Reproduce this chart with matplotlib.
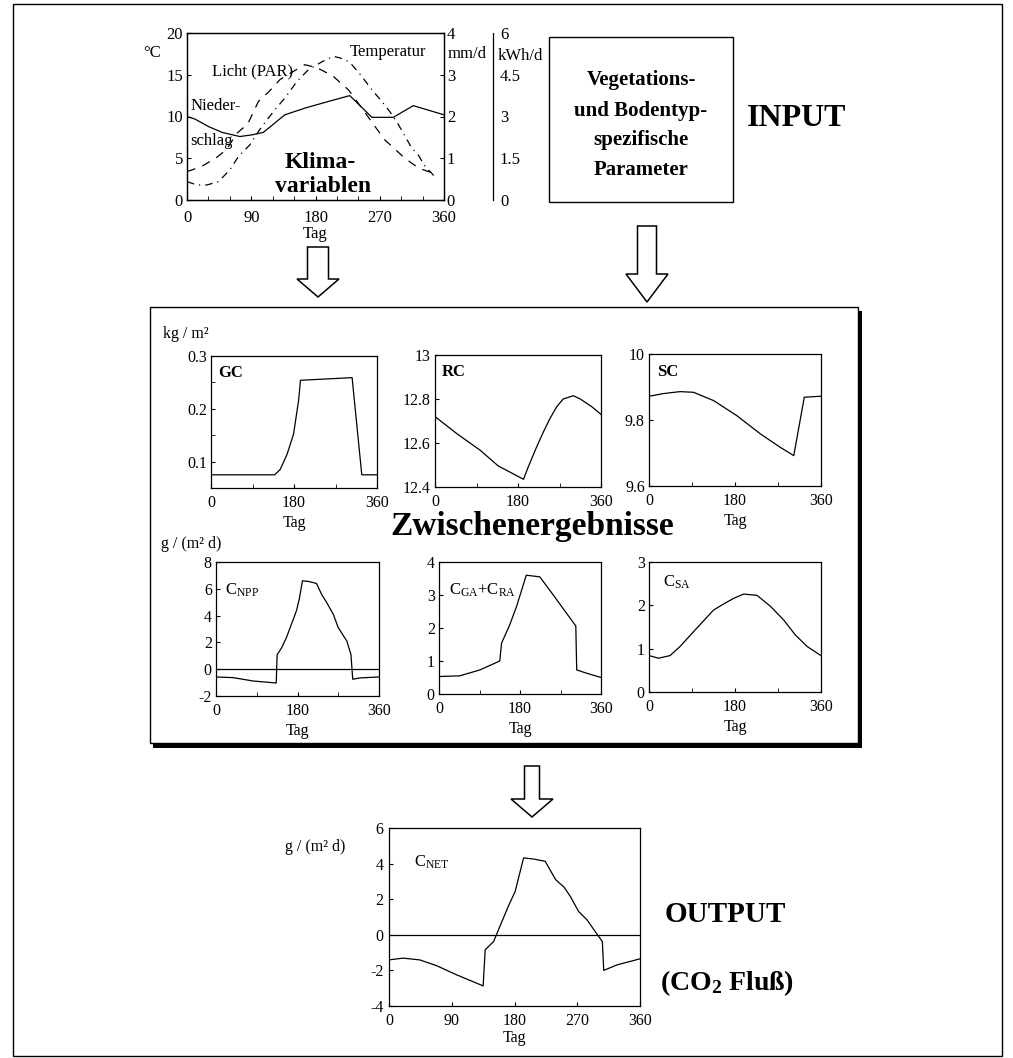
import matplotlib
matplotlib.use("Agg")
import matplotlib.pyplot as plt
from matplotlib.patches import Rectangle, Polygon
from matplotlib.ticker import MultipleLocator, FixedLocator

plt.rcParams['font.family'] = ['Liberation Serif', 'DejaVu Serif']
plt.rcParams['mathtext.fontset'] = 'custom'
plt.rcParams['mathtext.rm'] = 'Liberation Serif'
plt.rcParams['mathtext.it'] = 'Liberation Serif:italic'
plt.rcParams['mathtext.bf'] = 'Liberation Serif:bold'
plt.rcParams['axes.unicode_minus'] = False
plt.rcParams['axes.linewidth'] = 0.9

# ---------------- data ----------------
# climate variables (top chart)
temp_days = [0, 14, 28, 44, 60, 72, 88, 100, 112, 125, 137, 154, 170, 190, 205, 215, 228, 243, 259, 273, 284, 295, 315, 324, 332, 347]
temp_vals = [2.2, 1.8, 1.8, 2.2, 3.6, 5.2, 6.6, 8.2, 9.6, 11.0, 12.2, 14.2, 15.6, 16.6, 17.2, 17.0, 16.5, 15.0, 13.2, 11.8, 10.6, 9.2, 6.2, 5.4, 4.2, 2.8]  # °C

light_days = [0, 20, 40, 55, 70, 85, 100, 115, 130, 145, 165, 180, 190, 205, 226, 245, 260, 277, 290, 305, 325, 345]
light_vals = [1.02, 1.2, 1.5, 1.8, 2.4, 2.73, 3.54, 3.9, 4.32, 4.56, 4.86, 4.77, 4.65, 4.44, 3.96, 3.3, 2.76, 2.16, 1.86, 1.5, 1.14, 0.96]  # kWh/d

precip_days = [0, 11, 30, 49, 74, 91, 107, 137, 165, 198, 228, 259, 289, 317, 360]
precip_vals = [2.0, 1.94, 1.76, 1.62, 1.52, 1.56, 1.62, 2.04, 2.2, 2.36, 2.5, 1.98, 1.98, 2.26, 2.04]  # mm/d

# intermediate results
gc_days = [0, 138, 150, 165, 179, 190, 194, 306, 327, 360]
gc_vals = [0.075, 0.075, 0.085, 0.114, 0.152, 0.216, 0.254, 0.259, 0.075, 0.075]

rc_days = [0, 47, 98, 137, 192, 202, 220, 235, 249, 264, 278, 300, 315, 340, 360]
rc_vals = [12.72, 12.643, 12.567, 12.496, 12.435, 12.49, 12.58, 12.65, 12.71, 12.765, 12.80, 12.815, 12.80, 12.765, 12.73]

sc_days = [0, 30, 65, 93, 135, 184, 233, 275, 303, 325, 360]
sc_vals = [9.872, 9.88, 9.886, 9.884, 9.859, 9.813, 9.758, 9.717, 9.692, 9.869, 9.872]

npp_days = [0, 38, 82, 133, 135, 145, 156, 171, 178, 184, 191, 204, 222, 233, 244, 259, 270, 289, 298, 302, 318, 360]
npp_vals = [-0.58, -0.63, -0.88, -1.03, 1.08, 1.6, 2.4, 3.75, 4.4, 5.25, 6.6, 6.55, 6.4, 5.6, 5.0, 4.1, 3.1, 2.1, 1.1, -0.75, -0.65, -0.58]

ga_days = [0, 46, 91, 135, 139, 157, 172, 194, 224, 254, 304, 306, 328, 360]
ga_vals = [0.53, 0.55, 0.73, 1.0, 1.54, 2.09, 2.64, 3.6, 3.55, 3.0, 2.06, 0.73, 0.63, 0.5]

sa_days = [0, 20, 44, 65, 93, 114, 135, 156, 177, 198, 226, 254, 282, 306, 331, 360]
sa_vals = [0.84, 0.78, 0.84, 1.05, 1.39, 1.64, 1.89, 2.03, 2.16, 2.26, 2.23, 1.98, 1.66, 1.32, 1.05, 0.84]

# output
net_days = [0, 20, 44, 68, 97, 135, 138, 150, 159, 171, 181, 193, 207, 224, 239, 251, 260, 272, 284, 299, 306, 308, 327, 360]
net_vals = [-1.41, -1.31, -1.41, -1.73, -2.25, -2.87, -0.84, -0.38, 0.47, 1.59, 2.44, 4.32, 4.26, 4.13, 3.10, 2.68, 2.16, 1.31, 0.84, 0.0, -0.38, -2.0, -1.69, -1.35]

# ---------------- figure ----------------
W, H = 1013, 1058
fig = plt.figure(figsize=(W / 100, H / 100), dpi=100)


def add_ax(x0, y0, x1, y1):
    return fig.add_axes([x0 / W, 1 - y1 / H, (x1 - x0) / W, (y1 - y0) / H])


bg = add_ax(0, 0, W, H)
bg.set_xlim(0, W); bg.set_ylim(H, 0); bg.axis('off'); bg.set_zorder(-5)
fg = add_ax(0, 0, W, H)
fg.set_xlim(0, W); fg.set_ylim(H, 0); fg.axis('off'); fg.set_zorder(10)
fg.patch.set_visible(False)

# frames
bg.add_patch(Rectangle((13, 4), 989, 1052, fill=False, ec='black', lw=1.0))
bg.add_patch(Rectangle((153, 311), 709, 437, fc='black', ec='black', lw=0))
bg.add_patch(Rectangle((150, 307), 708, 436, fc='white', ec='black', lw=1.0))
bg.add_patch(Rectangle((549, 37), 184, 165, fill=False, ec='black', lw=1.0))


def block_arrow(cx, top, head_y, tip, shaft_w, head_w):
    pts = [(cx - shaft_w / 2, top), (cx + shaft_w / 2, top), (cx + shaft_w / 2, head_y),
           (cx + head_w / 2, head_y), (cx, tip), (cx - head_w / 2, head_y),
           (cx - shaft_w / 2, head_y)]
    fg.add_patch(Polygon(pts, closed=True, fill=False, ec='black', lw=1.1))


block_arrow(318, 247, 279, 297, 21, 42)
block_arrow(647, 226, 274, 302, 19, 42)
block_arrow(532, 766, 799, 817, 15, 42)


def style(ax, labelsize=11, xpad=5, ypad=3):
    ax.patch.set_visible(False)
    ax.tick_params(which='both', direction='in', labelsize=labelsize)
    ax.tick_params(which='major', length=3)
    ax.tick_params(which='minor', length=3)
    ax.tick_params(axis='x', pad=xpad)
    ax.tick_params(axis='y', pad=ypad)
    for s in ax.spines.values():
        s.set_linewidth(0.9)


LW = 0.9

# ---- top climate chart ----
ax = add_ax(187, 33, 444, 200)
style(ax, labelsize=12, xpad=7, ypad=3)
ax.plot(temp_days, temp_vals, color='black', lw=LW, dashes=(6, 4, 1, 4))
ax.set_xlim(0, 360); ax.set_ylim(0, 20)
ax.set_xticks([0, 90, 180, 270, 360])
ax.xaxis.set_minor_locator(MultipleLocator(30))
ax.set_yticks([0, 5, 10, 15, 20])
ax.set_xlabel('Tag', fontsize=12, labelpad=0)

ax2 = ax.twinx()
style(ax2, labelsize=12, ypad=2)
ax2.plot(precip_days, precip_vals, color='black', lw=LW)
ax2.set_ylim(0, 4)
ax2.set_yticks([0, 1, 2, 3, 4])

ax3 = ax.twinx()
style(ax3, labelsize=12, ypad=5)
ax3.plot(light_days, light_vals, color='black', lw=LW, dashes=(7, 6))
ax3.set_ylim(0, 6)
ax3.spines['right'].set_position(('axes', (493 - 187) / 257))
for s in ['top', 'left', 'bottom']:
    ax3.spines[s].set_visible(False)
ax3.set_yticks([0, 1.5, 3, 4.5, 6])
ax3.set_yticklabels(['0', '1.5', '3', '4.5', '6'])
ax3.tick_params(axis='y', length=0)

fg.text(152, 53, '°C', fontsize=12, ha='center', va='center')
fg.text(448, 54, 'mm/d', fontsize=12, ha='left', va='center')
fg.text(498, 56, 'kWh/d', fontsize=12, ha='left', va='center')
fg.text(212, 71, 'Licht (PAR)', fontsize=12, ha='left', va='center')
fg.text(350, 52, 'Temperatur', fontsize=12, ha='left', va='center')
fg.text(191, 106, 'Nieder-', fontsize=12, ha='left', va='center')
fg.text(190, 141, 'schlag', fontsize=12, ha='left', va='center')
fg.text(320, 163, 'Klima-', fontsize=17, fontweight='bold', ha='center', va='center')
fg.text(323, 186, 'variablen', fontsize=17, fontweight='bold', ha='center', va='center')

for yy, t in zip([80, 111, 140, 170], ['Vegetations-', 'und Bodentyp-', 'spezifische', 'Parameter']):
    fg.text(641, yy, t, fontsize=15, fontweight='bold', ha='center', va='center')
fg.text(797, 118, 'INPUT', fontsize=23, fontweight='bold', ha='center', va='center')

# ---- intermediate results ----
def mid_panel(box, days, vals, ylim, yticks, ylabels, minor_y, label, label_xy,
              bold=False, zero=False, xlabel=True):
    a = add_ax(*box)
    style(a, labelsize=11.5)
    a.plot(days, vals, color='black', lw=LW)
    if zero:
        a.axhline(0, color='black', lw=LW)
    a.set_xlim(0, 360); a.set_ylim(*ylim)
    a.set_xticks([0, 180, 360])
    a.xaxis.set_minor_locator(FixedLocator([90, 270]))
    a.set_yticks(yticks)
    a.set_yticklabels(ylabels)
    if minor_y:
        a.yaxis.set_minor_locator(FixedLocator(minor_y))
    if xlabel:
        a.set_xlabel('Tag', fontsize=11.5, labelpad=3)
    fg.text(label_xy[0], label_xy[1], label, fontsize=12,
            fontweight='bold' if bold else 'normal', ha='left', va='center')
    return a


mid_panel((211, 356, 377, 488), gc_days, gc_vals, (0.05, 0.3), [0.1, 0.2, 0.3], ['0.1', '0.2', '0.3'],
          [0.15, 0.25], 'GC', (218, 373), bold=True)
mid_panel((435, 355, 601, 487), rc_days, rc_vals, (12.4, 13.0), [12.4, 12.6, 12.8, 13.0],
          ['12.4', '12.6', '12.8', '13'], None, 'RC', (442, 372), bold=True, xlabel=False)
mid_panel((649, 354, 821, 486), sc_days, sc_vals, (9.6, 10.0), [9.6, 9.8, 10.0], ['9.6', '9.8', '10'],
          None, 'SC', (657, 372), bold=True)
mid_panel((216, 562, 379, 696), npp_days, npp_vals, (-2, 8), [-2, 0, 2, 4, 6, 8],
          ['-2', '0', '2', '4', '6', '8'], None, r'C$_{\mathregular{NPP}}$', (225, 590), zero=True)
mid_panel((439, 562, 601, 694), ga_days, ga_vals, (0, 4), [0, 1, 2, 3, 4], ['0', '1', '2', '3', '4'],
          None, r'C$_{\mathregular{GA}}$+C$_{\mathregular{RA}}$', (449, 590))
mid_panel((649, 562, 821, 692), sa_days, sa_vals, (0, 3), [0, 1, 2, 3], ['0', '1', '2', '3'],
          None, r'C$_{\mathregular{SA}}$', (663, 582))

fg.text(163, 334, 'kg / m²', fontsize=11.5, ha='left', va='center')
fg.text(161, 544, 'g / (m² d)', fontsize=11.5, ha='left', va='center')
fg.text(532, 527, 'Zwischenergebnisse', fontsize=24, fontweight='bold', ha='center', va='center')

# ---- output ----
an = add_ax(389, 828, 640, 1006)
style(an, labelsize=11.5, xpad=5, ypad=4)
an.plot(net_days, net_vals, color='black', lw=LW)
an.axhline(0, color='black', lw=LW)
an.set_xlim(0, 360); an.set_ylim(-4, 6)
an.set_xticks([0, 90, 180, 270, 360])
an.set_yticks([-4, -2, 0, 2, 4, 6])
an.set_yticklabels(['-4', '-2', '0', '2', '4', '6'])
an.set_xlabel('Tag', fontsize=11.5, labelpad=1)

fg.text(285, 847, 'g / (m² d)', fontsize=11.5, ha='left', va='center')
fg.text(414, 862, r'C$_{\mathregular{NET}}$', fontsize=12, ha='left', va='center')
fg.text(725, 915, 'OUTPUT', fontsize=21, fontweight='bold', ha='center', va='center')
fg.text(727, 983, r'(CO$_{\mathbf{2}}$ Fluß)', fontsize=20, fontweight='bold', ha='center', va='center')

fig.savefig('out.png', dpi=100)
